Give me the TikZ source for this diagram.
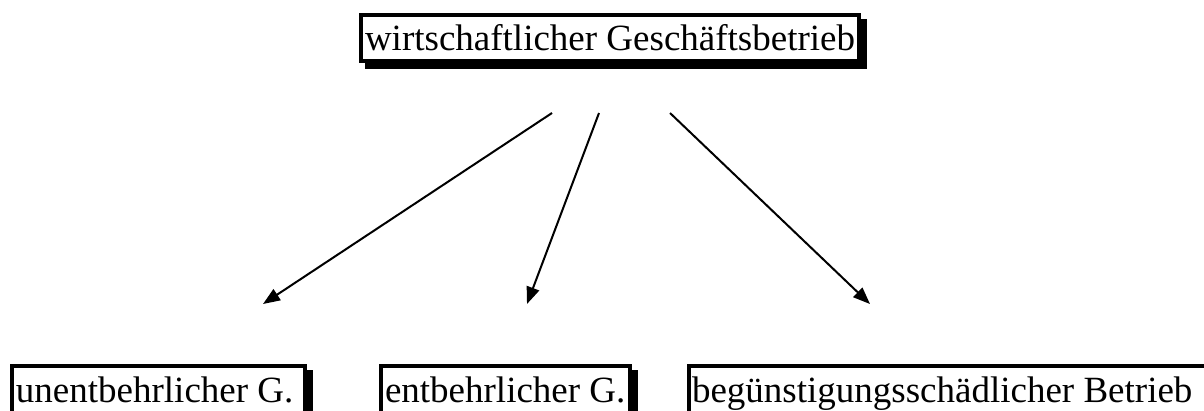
\documentclass[tikz,border=0pt]{standalone}
\usepackage{fontspec}
\setmainfont{Liberation Serif}
\usetikzlibrary{arrows.meta}
\begin{document}
\begin{tikzpicture}[x=1pt,y=-1pt,
  framebox/.style={draw=black, fill=white, line width=4pt, outer sep=0pt,
    inner xsep=4pt, inner ysep=0pt, anchor=north west,
    font=\fontsize{37}{44}\selectfont,
    preaction={draw=black, fill=black, line width=4pt,
      transform canvas={xshift=6pt,yshift=-6pt}}},
  conn/.style={line width=2pt, -{Triangle[length=17pt,width=13pt]}}]
\useasboundingbox (0,0) rectangle (1204,410);
\clip (0,0) rectangle (1204,410);
\node[framebox, text height=35pt, text depth=11pt] (top) at (361,15) {\makebox[490pt][l]{wirtschaftlicher Geschäftsbetrieb}};
\node[framebox, text height=36pt, text depth=16pt] (b1) at (12,366) {\makebox[285pt][l]{unentbehrlicher G.}};
\node[framebox, text height=36pt, text depth=16pt] (b2) at (381,366) {\makebox[241pt][l]{entbehrlicher G.}};
\node[framebox, inner xsep=3pt, text height=36pt, text depth=16pt] (b3) at (689,366) {\makebox[540pt][l]{begünstigungsschädlicher Betrieb}};
\coordinate (s1) at (552,113);
\coordinate (s2) at (599,113);
\coordinate (s3) at (670,113);
\coordinate (e1) at (263,304);
\coordinate (e2) at (527,304);
\coordinate (e3) at (870,304);
\draw[conn] (s1) -- (e1);
\draw[conn] (s2) -- (e2);
\draw[conn] (s3) -- (e3);
\end{tikzpicture}
\end{document}
